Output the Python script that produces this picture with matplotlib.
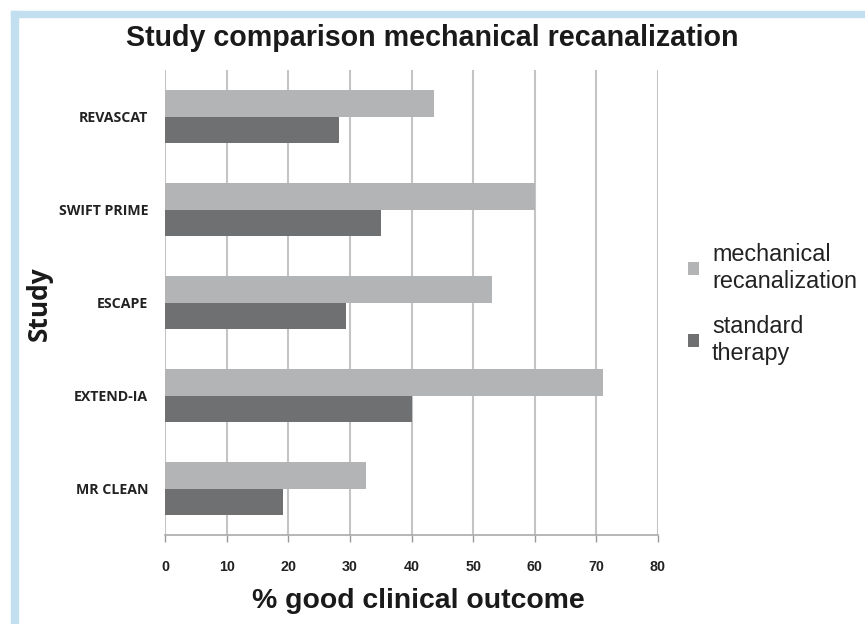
import matplotlib
matplotlib.use("Agg")
import matplotlib.pyplot as plt
from matplotlib.patches import Rectangle, Patch
import numpy as np

studies = ["REVASCAT", "SWIFT PRIME", "ESCAPE", "EXTEND-IA", "MR CLEAN"]
mechanical = [43.7, 60.1, 53.0, 71.0, 32.6]
standard = [28.2, 35.0, 29.3, 40.0, 19.1]
xticks = [0, 10, 20, 30, 40, 50, 60, 70, 80]

c_light = "#b3b4b6"
c_dark = "#6e7072"
c_grid = "#c4c4c4"

fig = plt.figure(figsize=(8.65, 6.24), dpi=100)
fig.patch.set_facecolor("white")

# light blue frame
W, H = 865, 624
fig.patches.append(Rectangle((11 / W, 1 - 17 / H), 1 - 11 / W, 6 / H,
                             transform=fig.transFigure, color="#c2dff0", zorder=0))
fig.patches.append(Rectangle((11 / W, 0), 7 / W, 1 - 11 / H,
                             transform=fig.transFigure, color="#c2dff0", zorder=0))

ax = fig.add_axes([165 / W, 1 - 535 / H, (658 - 165) / W, (535 - 70) / H])

y = np.arange(len(studies))
h = 0.285
ax.barh(y - h / 2, mechanical, height=h, color=c_light, zorder=3)
ax.barh(y + h / 2, standard, height=h, color=c_dark, zorder=3)

ax.set_xlim(0, 80)
ax.set_ylim(len(studies) - 0.5, -0.5)
ax.set_xticks(xticks)
ax.set_xticklabels([str(v) for v in xticks],
                   family=["Liberation Sans", "DejaVu Sans"],
                   fontweight="bold", fontsize=10.3, color="#222222")
ax.set_yticks(y)
ax.set_yticklabels(studies, family=["Open Sans", "DejaVu Sans"], fontweight="bold",
                   fontsize=10.2, color="#222222")
ax.tick_params(axis="y", length=0, pad=12)
ax.tick_params(axis="x", length=5, width=1, color="#999999", pad=13)

ax.xaxis.grid(True, color=c_grid, linewidth=1.5, zorder=0)
ax.yaxis.grid(False)
for s in ["top", "right", "left"]:
    ax.spines[s].set_visible(False)
ax.spines["bottom"].set_color("#aaaaaa")
ax.spines["bottom"].set_linewidth(1.2)
ax.set_axisbelow(True)

fig.text(418 / W, 1 - 601 / H, "% good clinical outcome",
         family=["Liberation Sans", "DejaVu Sans"], fontweight="bold", fontsize=20.4,
         ha="center", va="center", color="#1a1a1a")
fig.text(39 / W, 1 - 304 / H, "Study", family=["Open Sans", "DejaVu Sans"],
         fontweight="bold", fontsize=19, rotation=90, ha="center", va="center",
         color="#1a1a1a")

fig.text(432 / W, 1 - 38 / H, "Study comparison mechanical recanalization",
         family=["Liberation Sans", "DejaVu Sans"], fontweight="bold", fontsize=20.6,
         ha="center", va="center", color="#1a1a1a")

handles = [Patch(facecolor=c_light, edgecolor="none"),
           Patch(facecolor=c_dark, edgecolor="none")]
leg = fig.legend(handles, ["mechanical\nrecanalization", "standard\ntherapy"],
                 loc="center left", bbox_to_anchor=(667 / W, 1 - 304 / H),
                 frameon=False, handlelength=0.48, handleheight=0.48,
                 handletextpad=0.55, labelspacing=0.95,
                 prop={"family": ["Liberation Sans", "DejaVu Sans"], "size": 16.8})
for t in leg.get_texts():
    t.set_color("#222222")
    t.set_linespacing(1.22)

fig.savefig("out.png", dpi=100)
